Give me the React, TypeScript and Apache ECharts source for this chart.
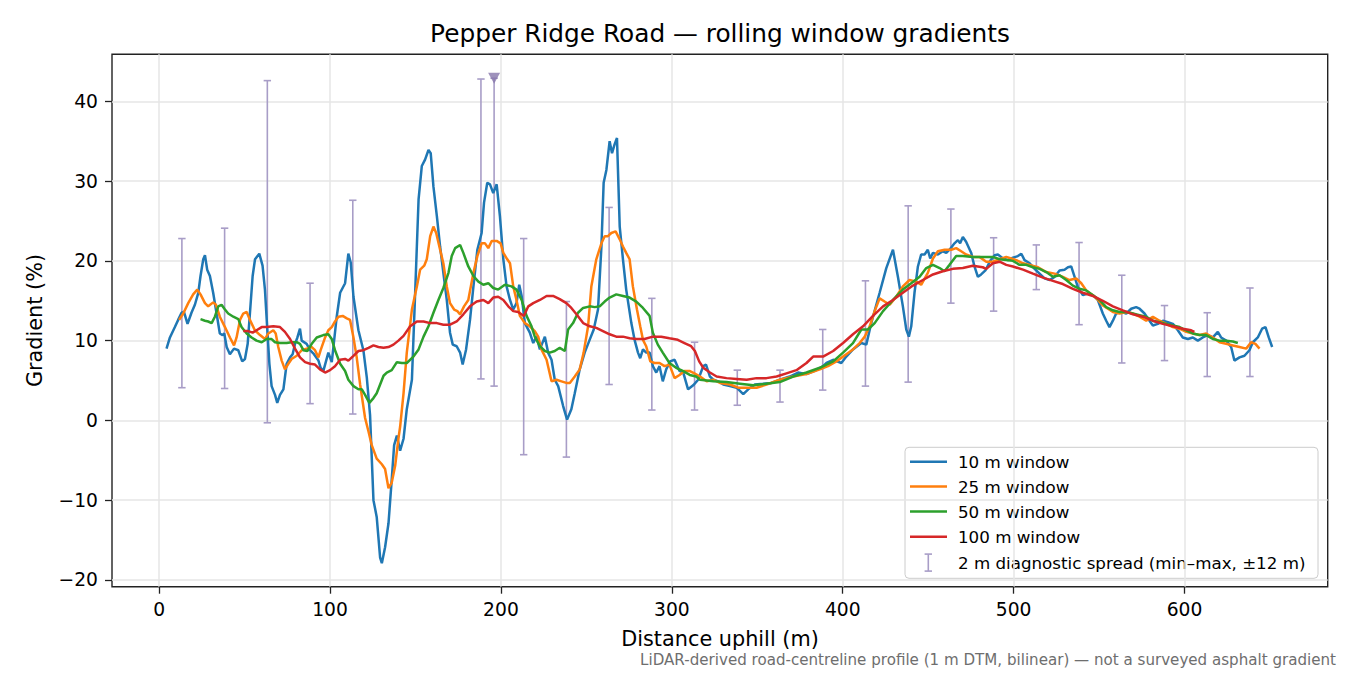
import { useEffect, useRef } from "react";
import * as echarts from "echarts";

// distance uphill (m) -> gradient (%)
const win10: [number, number][] = [
  [4.3, 9.0], [6.3, 10.4], [9.2, 11.7], [11.1, 12.6], [13.1, 13.5], [14.5, 13.6], [16.6, 12.1], [18.9, 13.5],
  [20.9, 14.5], [22.9, 16.0], [24.2, 18.1], [25.8, 20.2], [26.8, 20.7], [28.1, 18.9], [29.7, 18.1], [31.6, 16.0],
  [33.6, 13.4], [35.5, 10.9], [37.1, 10.7], [38.1, 10.9], [39.5, 9.2], [41.4, 8.3], [43.8, 9.0], [46.3, 8.8],
  [48.6, 7.4], [50.2, 7.7], [51.8, 9.6], [53.1, 13.4], [54.7, 18.1], [56.1, 20.2], [58.6, 20.9], [60.5, 19.4],
  [61.9, 16.4], [63.3, 11.3], [64.5, 7.1], [65.8, 4.3], [67.8, 3.2], [69.1, 2.2], [70.7, 3.2], [72.7, 3.9],
  [74.6, 7.1], [76.6, 7.9], [78.1, 8.3], [79.5, 9.6], [80.9, 10.4], [82.4, 11.5], [83.4, 10.0], [86.3, 9.6],
  [88.3, 8.8], [90.6, 8.3], [93.2, 7.5], [94.5, 6.6], [96.1, 6.2], [99.0, 8.5], [101.0, 7.3], [103.9, 13.0],
  [105.9, 16.0], [108.8, 17.2], [110.7, 20.9], [112.1, 19.8], [113.7, 15.5], [116.6, 11.3], [119.5, 8.8],
  [121.5, 5.4], [123.4, 0.7], [125.4, -10.0], [127.3, -12.1], [129.3, -17.2], [130.3, -17.9], [132.2, -15.9],
  [134.2, -12.9], [136.1, -7.4], [137.5, -3.1], [139.1, -1.9], [141.0, -3.8], [143.0, -2.3], [144.9, 1.4],
  [147.9, 5.1], [149.8, 16.0], [151.8, 27.7], [153.7, 31.9], [155.6, 32.7], [157.6, 33.9], [158.9, 33.5],
  [160.5, 29.3], [162.5, 25.6], [164.4, 21.8], [166.3, 18.5], [168.3, 15.1], [170.2, 11.0], [171.8, 9.5],
  [174.1, 9.3], [176.1, 8.5], [177.6, 7.0], [179.6, 8.9], [181.9, 12.6], [183.9, 16.8], [186.2, 21.4],
  [188.7, 23.5], [190.1, 27.3], [192.0, 29.8], [193.6, 29.6], [195.5, 28.5], [197.5, 29.6], [199.4, 25.6],
  [201.4, 20.2], [203.3, 16.8], [205.3, 15.1], [207.2, 13.9], [209.1, 14.7], [210.7, 17.0], [212.1, 15.6],
  [214.0, 12.2], [216.9, 11.0], [218.9, 9.7], [220.8, 10.5], [222.8, 8.9], [225.7, 10.5], [227.6, 8.5],
  [229.6, 7.6], [231.5, 5.1], [233.5, 4.3], [236.4, 1.8], [238.7, 0.1], [241.2, 1.4], [243.2, 3.4], [246.1, 6.4],
  [249.0, 8.5], [251.9, 10.1], [254.3, 11.4], [256.8, 13.9], [258.8, 21.8], [260.1, 29.8], [261.7, 31.4],
  [263.6, 35.0], [265.0, 33.5], [266.5, 34.6], [267.9, 35.4], [269.5, 24.3], [271.4, 20.2], [273.3, 16.4],
  [276.3, 12.2], [278.2, 10.1], [280.2, 8.5], [281.5, 7.8], [283.1, 8.9], [285.0, 8.5], [287.0, 8.5], [288.9, 6.8],
  [290.9, 6.0], [292.8, 6.8], [294.7, 4.9], [296.7, 6.4], [299.0, 7.4], [301.6, 7.6], [304.5, 6.2], [306.7, 6.0],
  [309.5, 3.9], [312.5, 4.4], [315.4, 5.1], [318.4, 6.8], [320.0, 7.0], [322.3, 5.5], [324.3, 5.1], [327.2, 4.9],
  [330.1, 4.5], [334.0, 4.3], [337.9, 4.1], [341.8, 3.3], [344.7, 3.9], [348.6, 4.5], [353.5, 4.6], [358.3, 4.7],
  [363.2, 5.1], [369.0, 5.5], [373.9, 6.0], [378.8, 5.8], [383.6, 6.2], [388.5, 6.8], [390.5, 7.2], [394.4, 7.6],
  [399.2, 7.2], [402.1, 8.0], [406.0, 8.9], [410.9, 9.7], [413.8, 9.5], [416.7, 12.2], [421.6, 16.0],
  [425.5, 19.1], [429.4, 21.4], [432.3, 18.0], [435.2, 14.3], [437.2, 11.4], [438.7, 10.5], [440.1, 11.8],
  [442.0, 16.0], [444.0, 19.3], [445.9, 20.8], [447.9, 20.8], [449.8, 21.4], [451.2, 20.3], [452.8, 21.0],
  [455.7, 20.8], [458.6, 21.2], [460.6, 21.0], [462.5, 21.4], [465.4, 22.2], [467.4, 22.6], [468.7, 22.2],
  [470.3, 23.0], [472.2, 22.4], [475.2, 21.0], [477.1, 19.3], [479.1, 18.0], [481.0, 18.3], [483.5, 18.8],
  [486.3, 20.0], [488.9, 20.7], [490.8, 20.8], [493.8, 20.3], [496.7, 20.1], [499.6, 20.4], [502.5, 20.6],
  [504.5, 20.9], [506.4, 20.1], [509.4, 19.7], [512.3, 19.0], [515.2, 18.4], [518.1, 17.8], [521.1, 17.6],
  [524.0, 18.0], [526.9, 18.8], [529.8, 18.9], [531.8, 19.2], [533.7, 19.3], [535.7, 18.0], [537.6, 16.7],
  [540.5, 15.7], [543.5, 15.9], [546.4, 15.7], [549.3, 15.1], [552.2, 13.4], [554.2, 12.5], [556.1, 11.7],
  [558.1, 12.5], [560.0, 13.4], [563.0, 13.6], [565.9, 13.4], [568.8, 14.0], [571.7, 14.2], [573.7, 14.0],
  [576.6, 13.4], [579.5, 12.5], [581.5, 11.9], [584.4, 12.1], [587.3, 12.5], [590.3, 12.3], [593.2, 12.1],
  [596.1, 11.3], [599.0, 10.4], [602.0, 10.2], [604.9, 10.4], [607.8, 10.0], [610.7, 10.4], [613.6, 10.7],
  [616.6, 10.4], [619.5, 11.1], [621.4, 10.4], [624.4, 10.0], [627.3, 9.2], [629.2, 7.5], [632.2, 7.9],
  [635.1, 8.1], [638.0, 8.8], [640.0, 9.8], [642.9, 10.4], [645.4, 11.5], [647.4, 11.7], [649.3, 10.4],
  [651.3, 9.2],
];

const win25: [number, number][] = [
  [11.7, 12.6], [14.1, 13.4], [17.0, 14.7], [19.9, 15.8], [22.3, 16.4], [24.2, 15.8], [26.8, 14.7], [28.7, 14.3],
  [31.6, 14.8], [33.2, 14.5], [35.5, 13.0], [38.5, 11.7], [41.4, 10.4], [43.8, 9.4], [45.3, 10.4], [47.3, 12.6],
  [49.2, 13.4], [51.2, 13.6], [53.1, 12.6], [56.0, 11.3], [59.0, 10.7], [61.9, 10.2], [63.9, 10.9], [66.8, 11.3],
  [68.2, 10.9], [69.7, 9.2], [71.7, 7.5], [73.6, 6.4], [75.6, 7.1], [77.5, 7.7], [80.5, 8.1], [83.4, 8.8],
  [86.3, 9.0], [89.3, 9.2], [91.2, 8.8], [93.2, 7.9], [94.5, 8.8], [97.1, 10.4], [99.0, 11.3], [101.0, 11.7],
  [102.9, 12.4], [104.9, 13.0], [107.4, 13.1], [109.8, 12.8], [111.7, 12.6], [113.7, 10.4], [115.6, 7.9],
  [117.6, 4.5], [120.5, 0.3], [122.5, -1.4], [124.4, -3.1], [127.3, -4.8], [130.3, -5.5], [132.2, -6.1],
  [134.2, -8.5], [136.1, -7.8], [138.1, -5.7], [140.0, -2.3], [141.0, -0.8], [143.0, 3.4], [144.9, 8.5],
  [147.9, 13.9], [150.8, 16.8], [152.7, 18.9], [155.1, 19.4], [156.6, 20.2], [158.6, 23.1], [160.5, 24.3],
  [162.1, 23.5], [164.4, 21.4], [166.3, 19.7], [168.3, 16.8], [170.2, 14.7], [172.6, 13.9], [174.5, 13.7],
  [176.1, 13.3], [178.4, 14.3], [180.9, 15.1], [183.9, 18.5], [186.2, 20.6], [188.7, 22.2], [190.7, 22.2],
  [192.6, 21.6], [194.6, 22.5], [197.5, 22.5], [199.8, 22.2], [201.4, 21.0], [203.7, 20.2], [205.3, 19.7],
  [207.2, 16.8], [209.1, 15.1], [211.1, 13.1], [214.0, 12.2], [216.9, 11.8], [219.8, 11.2], [221.8, 10.5],
  [223.7, 8.9], [226.7, 7.6], [229.6, 4.9], [232.5, 5.1], [235.4, 4.9], [238.3, 4.7], [240.3, 4.7], [243.2, 5.5],
  [246.1, 6.4], [248.4, 8.5], [251.0, 11.8], [252.9, 16.8], [255.8, 20.2], [258.8, 22.2], [260.7, 23.1],
  [262.6, 23.1], [264.6, 23.5], [267.1, 23.7], [269.5, 22.7], [271.4, 21.8], [273.3, 21.0], [275.3, 20.2],
  [277.2, 16.8], [279.6, 13.9], [281.5, 11.8], [283.1, 10.1], [285.0, 9.3], [287.4, 7.4], [289.9, 7.2],
  [292.8, 7.2], [295.7, 6.8], [298.6, 7.0], [301.6, 5.3], [304.5, 5.7], [307.4, 6.2], [310.3, 6.2], [313.2, 5.9],
  [316.5, 5.5], [320.4, 4.9], [324.3, 5.1], [328.2, 4.7], [334.0, 4.5], [338.9, 4.1], [343.8, 4.1], [349.6, 4.1],
  [355.4, 4.5], [363.2, 5.1], [371.0, 5.5], [378.8, 5.8], [386.6, 6.4], [391.4, 6.8], [396.3, 7.4], [402.1, 8.3],
  [406.0, 8.9], [409.9, 9.7], [412.9, 10.5], [415.8, 11.8], [418.7, 13.7], [421.6, 15.3], [424.5, 14.9],
  [427.5, 14.5], [431.3, 15.5], [435.2, 16.8], [439.1, 17.6], [443.0, 17.4], [445.9, 17.0], [449.8, 18.5],
  [452.8, 20.3], [455.7, 21.2], [459.6, 21.4], [463.5, 21.4], [466.4, 21.6], [469.3, 21.2], [472.2, 20.8],
  [476.1, 20.5], [480.0, 20.5], [484.0, 19.9], [487.9, 19.9], [491.8, 20.2], [495.7, 20.5], [498.6, 20.3],
  [501.6, 20.1], [505.5, 19.7], [509.4, 19.5], [514.3, 19.2], [519.1, 18.6], [524.0, 18.4], [528.8, 18.0],
  [532.7, 17.6], [536.6, 17.8], [539.6, 17.2], [542.5, 16.3], [546.4, 15.7], [549.3, 15.1], [552.2, 14.4],
  [555.2, 14.0], [558.1, 13.6], [562.0, 13.4], [565.9, 13.6], [569.8, 13.4], [573.7, 13.0], [577.6, 12.5],
  [581.5, 13.0], [585.4, 12.5], [589.3, 12.1], [593.2, 11.7], [597.1, 11.5], [601.0, 11.1], [604.9, 10.9],
  [608.8, 10.7], [612.7, 10.9], [616.6, 10.4], [620.5, 9.8], [624.4, 9.6], [628.3, 9.4], [632.2, 9.2],
  [636.1, 9.0], [639.0, 9.8], [641.5, 9.6], [643.9, 9.0],
];

const win50: [number, number][] = [
  [24.2, 12.7], [26.8, 12.5], [28.7, 12.4], [30.7, 12.2], [32.6, 13.0], [34.6, 14.3], [36.5, 14.5], [38.5, 13.9],
  [40.4, 13.4], [43.4, 13.0], [46.3, 12.7], [48.2, 11.7], [51.2, 10.9], [54.1, 10.4], [57.0, 10.0], [60.0, 9.8],
  [62.9, 10.2], [65.8, 10.2], [67.8, 9.8], [70.7, 9.7], [74.6, 9.7], [77.5, 9.8], [80.5, 9.8], [82.4, 9.6],
  [84.4, 8.8], [86.7, 8.7], [89.3, 9.6], [92.2, 10.4], [96.1, 10.7], [99.0, 10.8], [101.0, 10.2], [102.9, 8.8],
  [105.9, 7.1], [108.8, 6.2], [110.7, 5.1], [113.7, 4.3], [116.6, 3.9], [118.6, 3.9], [120.5, 3.2], [123.0, 2.2],
  [125.4, 2.8], [127.3, 3.4], [129.3, 4.5], [131.3, 5.6], [133.2, 6.0], [136.1, 6.3], [139.1, 7.3], [142.0, 7.2],
  [144.9, 7.2], [148.8, 8.0], [151.8, 8.9], [154.7, 10.5], [157.6, 11.8], [160.5, 13.5], [163.4, 15.1],
  [166.3, 16.6], [169.3, 18.5], [171.2, 20.6], [173.2, 21.6], [176.1, 22.0], [178.0, 21.0], [180.9, 19.3],
  [183.9, 18.1], [186.8, 17.4], [189.7, 17.0], [192.6, 17.2], [195.5, 16.6], [198.4, 16.4], [202.3, 17.0],
  [206.2, 16.8], [209.1, 16.4], [212.1, 15.1], [215.0, 13.1], [217.9, 11.8], [219.8, 10.5], [222.8, 9.3],
  [225.7, 8.7], [228.6, 8.5], [231.5, 8.7], [234.4, 9.1], [237.4, 8.7], [239.3, 11.4], [242.2, 12.2],
  [245.1, 13.5], [248.1, 14.1], [252.0, 14.3], [254.9, 14.2], [257.8, 14.3], [260.7, 14.9], [263.6, 15.4],
  [267.5, 15.8], [271.4, 15.6], [275.3, 15.4], [279.2, 14.9], [283.1, 14.1], [287.0, 13.1], [288.9, 11.0],
  [291.8, 9.5], [294.7, 8.5], [298.6, 7.2], [302.5, 6.6], [306.4, 6.2], [310.5, 5.7], [314.2, 5.5], [316.5, 5.1],
  [324.3, 4.9], [332.0, 4.8], [339.9, 4.6], [347.6, 4.4], [355.4, 4.6], [363.2, 4.8], [371.0, 5.5], [378.8, 6.0],
  [386.6, 6.6], [394.4, 7.4], [400.2, 8.5], [406.0, 9.7], [410.9, 11.4], [414.8, 11.4], [418.7, 12.2],
  [423.6, 13.7], [429.4, 15.1], [435.2, 16.4], [440.1, 17.2], [445.0, 18.0], [448.9, 19.1], [452.8, 19.5],
  [456.7, 19.1], [459.6, 18.7], [462.5, 19.5], [466.4, 20.6], [470.3, 20.6], [476.1, 20.5], [481.9, 20.5],
  [487.8, 20.5], [491.8, 20.2], [495.7, 20.1], [499.6, 20.0], [503.5, 19.5], [507.4, 19.5], [511.3, 19.2],
  [515.2, 19.0], [519.1, 18.6], [523.0, 18.0], [526.9, 18.2], [530.8, 17.6], [534.7, 16.9], [538.6, 16.5],
  [542.5, 16.3], [546.4, 15.7], [550.3, 15.1], [554.2, 14.2], [558.1, 13.8], [562.0, 13.6], [565.9, 13.6],
  [569.8, 13.4], [573.7, 13.2], [577.6, 13.0], [581.5, 12.5], [585.4, 12.3], [589.3, 12.1], [593.2, 11.9],
  [597.1, 11.7], [601.0, 11.3], [604.9, 10.9], [608.8, 10.7], [612.7, 10.7], [616.6, 10.2], [620.5, 10.0],
  [624.4, 10.0], [628.3, 9.9], [631.2, 9.7],
];

const win100: [number, number][] = [
  [49.2, 11.2], [52.1, 11.2], [54.7, 11.0], [57.0, 11.3], [60.0, 11.7], [62.9, 11.7], [66.8, 11.8], [70.7, 11.7],
  [73.6, 11.1], [76.6, 10.2], [79.5, 9.0], [82.4, 7.9], [85.4, 7.3], [88.3, 7.1], [91.2, 7.0], [94.1, 6.4],
  [97.1, 6.0], [100.0, 6.3], [102.9, 6.8], [105.9, 7.6], [108.8, 7.7], [110.7, 7.5], [113.7, 8.1], [116.6, 8.7],
  [119.5, 8.8], [122.5, 9.1], [125.4, 9.4], [128.3, 9.2], [131.3, 9.1], [134.2, 9.2], [137.1, 9.5], [140.0, 10.0],
  [143.0, 10.6], [146.9, 11.8], [150.8, 12.4], [154.7, 12.4], [158.6, 12.2], [162.5, 12.2], [166.3, 12.0],
  [170.2, 12.0], [174.1, 12.4], [178.0, 13.3], [181.9, 14.3], [185.8, 14.9], [189.7, 15.1], [192.6, 14.7],
  [195.5, 15.4], [198.4, 15.5], [201.4, 15.1], [204.3, 14.3], [207.2, 13.7], [210.1, 13.6], [213.4, 13.1],
  [216.0, 14.3], [218.9, 14.7], [222.8, 15.1], [226.7, 15.6], [230.5, 15.6], [234.4, 15.2], [238.3, 14.7],
  [241.2, 14.1], [244.2, 13.3], [248.1, 12.2], [252.0, 11.8], [255.8, 11.6], [259.7, 11.2], [263.6, 10.8],
  [267.5, 10.5], [271.4, 10.5], [275.3, 10.3], [279.2, 10.2], [284.0, 10.2], [288.9, 10.5], [293.8, 10.5],
  [298.6, 10.3], [303.5, 10.1], [307.4, 9.7], [311.3, 9.3], [313.5, 8.7], [316.0, 7.4], [318.4, 6.6],
  [322.3, 6.0], [326.2, 5.5], [332.0, 5.3], [337.9, 5.2], [343.8, 5.1], [349.6, 5.3], [355.4, 5.3], [361.3, 5.5],
  [367.1, 5.9], [372.9, 6.3], [378.8, 7.2], [382.7, 8.0], [388.5, 8.0], [394.4, 8.7], [400.2, 9.7], [406.0, 10.8],
  [411.9, 11.8], [417.7, 13.1], [423.6, 14.3], [429.4, 15.1], [435.2, 16.0], [441.1, 16.9], [446.9, 17.6],
  [452.8, 18.3], [458.6, 18.7], [464.4, 19.0], [470.3, 19.1], [476.1, 19.4], [481.9, 19.2], [484.0, 19.0],
  [487.9, 19.7], [491.8, 19.9], [495.7, 19.5], [499.6, 19.3], [505.5, 18.9], [511.3, 18.4], [517.2, 17.9],
  [523.0, 17.5], [528.8, 17.1], [534.7, 16.5], [540.5, 16.0], [546.4, 15.6], [552.2, 15.0], [558.1, 14.3],
  [563.9, 13.8], [569.8, 13.3], [575.6, 13.0], [581.5, 12.5], [587.3, 12.1], [593.2, 11.8], [599.0, 11.5],
  [603.9, 11.3], [605.8, 11.1],
];

// 2 m diagnostic spread: centre distance, min and max gradient
const spreadAt = [13.3, 38.3, 63.3, 88.3, 113.3, 188.3, 196.0, 213.3, 238.3, 263.3, 288.3, 313.3, 338.3,
  363.3, 388.3, 413.3, 438.3, 463.3, 488.3, 513.3, 538.3, 563.3, 588.3, 613.3, 638.3];
const spreadMin = [4.1, 4.0, -0.3, 2.1, 0.8, 5.2, 4.3, -4.3, -4.6, 4.5, 1.3, 1.3, 1.9,
  2.3, 3.8, 4.3, 4.8, 14.7, 13.7, 16.4, 12.0, 7.2, 7.5, 5.5, 5.5];
const spreadMax = [22.8, 24.1, 42.6, 17.2, 27.6, 42.8, 42.9, 22.8, 14.9, 26.7, 15.3, 9.8, 6.3,
  6.3, 11.4, 17.5, 26.9, 26.5, 22.9, 22.0, 22.3, 18.2, 14.4, 13.5, 16.6];
const peakMark: [number, number] = [196.0, 42.9];

const seriesNames = ["10 m window", "25 m window", "50 m window", "100 m window"];
const spreadName = "2 m diagnostic spread (min\u2013max, \u00b112 m)";
const xTicks = [0, 100, 200, 300, 400, 500, 600];
const yTicks = [-20, -10, 0, 10, 20, 30, 40];

const COLORS = ["#1f77b4", "#ff7f0e", "#2ca02c", "#d62728"];
const BAR = "#a89dc7";
const FONT = "'DejaVu Sans', sans-serif";

export default function App() {
  const ref = useRef<HTMLDivElement>(null);

  useEffect(() => {
    document.body.style.margin = "0";
    if (!ref.current) return;
    const chart = echarts.init(ref.current, null, { renderer: "svg" });

    const lines = [win10, win25, win50, win100].map((d, i) => ({
      name: seriesNames[i],
      type: "line",
      data: d,
      showSymbol: false,
      symbol: "none",
      lineStyle: { color: COLORS[i], width: 2.5 },
      itemStyle: { color: COLORS[i] },
      z: 3,
    }));

    const legendRows = [461.7, 486.6, 511.6, 536.7];
    const legendItems: any[] = [
      {
        type: "rect",
        shape: { x: 905, y: 447.3, width: 413, height: 131, r: 4 },
        style: { fill: "rgba(255,255,255,0.8)", stroke: "#cccccc", lineWidth: 1 },
      },
    ];
    seriesNames.forEach((n, i) => {
      legendItems.push({
        type: "line",
        shape: { x1: 910, y1: legendRows[i], x2: 947, y2: legendRows[i] },
        style: { stroke: COLORS[i], lineWidth: 2.5 },
      });
      legendItems.push({
        type: "text",
        x: 958,
        y: legendRows[i],
        style: { text: n, font: `16.7px ${FONT}`, fill: "#000", textVerticalAlign: "middle", verticalAlign: "middle" },
      });
    });
    const ey = 562.6;
    legendItems.push(
      { type: "line", shape: { x1: 928.3, y1: ey - 8.5, x2: 928.3, y2: ey + 8.5 }, style: { stroke: BAR, lineWidth: 1.6 } },
      { type: "line", shape: { x1: 924.6, y1: ey - 8.5, x2: 932, y2: ey - 8.5 }, style: { stroke: BAR, lineWidth: 1.6 } },
      { type: "line", shape: { x1: 924.6, y1: ey + 8.5, x2: 932, y2: ey + 8.5 }, style: { stroke: BAR, lineWidth: 1.6 } },
      {
        type: "text",
        x: 958,
        y: ey,
        style: { text: spreadName, font: `16.7px ${FONT}`, fill: "#000", textVerticalAlign: "middle", verticalAlign: "middle" },
      },
    );

    const centred = (text: string, size: number) => ({
      text,
      font: `${size}px ${FONT}`,
      fill: "#000",
      textAlign: "center",
      textVerticalAlign: "middle",
      align: "center",
      verticalAlign: "middle",
    });

    chart.setOption({
      animation: false,
      backgroundColor: "#ffffff",
      grid: {
        left: 112,
        top: 54.3,
        right: 22.3,
        bottom: 88.3,
        show: true,
        borderColor: "#222",
        borderWidth: 1.4,
        backgroundColor: "transparent",
        containLabel: false,
        outerBoundsMode: "none",
      },
      xAxis: {
        type: "value",
        min: -27.6,
        max: 683.8,
        axisLine: { show: false, onZero: false },
        axisTick: { show: true, inside: false, length: 7, customValues: xTicks, lineStyle: { color: "#222", width: 1.3 } },
        axisLabel: { customValues: xTicks, color: "#000", fontSize: 18.7, fontFamily: FONT, margin: 13 },
        splitLine: { show: true, lineStyle: { color: "#e6e6e6", width: 1.5 } },
      },
      yAxis: {
        type: "value",
        min: -20.85,
        max: 45.9,
        axisLine: { show: false, onZero: false },
        axisTick: { show: true, inside: false, length: 7, customValues: yTicks, lineStyle: { color: "#222", width: 1.3 } },
        axisLabel: {
          customValues: yTicks,
          color: "#000",
          fontSize: 18.7,
          fontFamily: FONT,
          margin: 14,
          formatter: (v: number) => (v < 0 ? "\u2212" + Math.abs(v) : String(v)),
        },
        splitLine: { show: true, lineStyle: { color: "#e6e6e6", width: 1.5 } },
      },
      series: [
        {
          name: spreadName,
          type: "custom",
          z: 2,
          data: spreadAt.map((x, i) => [x, spreadMin[i], spreadMax[i]]),
          encode: { x: 0, y: [1, 2] },
          renderItem: (_p: any, api: any) => {
            const lo = api.coord([api.value(0), api.value(1)]);
            const hi = api.coord([api.value(0), api.value(2)]);
            const c = 3.7;
            const st = { stroke: BAR, lineWidth: 1.6 };
            return {
              type: "group",
              children: [
                { type: "line", shape: { x1: lo[0], y1: lo[1], x2: hi[0], y2: hi[1] }, style: st },
                { type: "line", shape: { x1: lo[0] - c, y1: lo[1], x2: lo[0] + c, y2: lo[1] }, style: st },
                { type: "line", shape: { x1: hi[0] - c, y1: hi[1], x2: hi[0] + c, y2: hi[1] }, style: st },
              ],
            };
          },
        },
        ...lines,
        {
          name: "peak",
          type: "scatter",
          data: [peakMark],
          symbol: "triangle",
          symbolRotate: 180,
          symbolSize: [12, 11],
          itemStyle: { color: "#8777ab" },
          z: 4,
        },
      ],
      graphic: [
        { type: "text", x: 720, y: 33, style: centred("Pepper Ridge Road \u2014 rolling window gradients", 24.8) },
        { type: "text", x: 720, y: 639, style: centred("Distance uphill (m)", 20.8) },
        { type: "text", x: 35, y: 320.5, rotation: Math.PI / 2, style: centred("Gradient (%)", 20.8) },
        {
          type: "text",
          x: 1336,
          y: 660,
          style: {
            text: "LiDAR-derived road-centreline profile (1 m DTM, bilinear) \u2014 not a surveyed asphalt gradient",
            font: `15.1px ${FONT}`,
            fill: "#6e6e6e",
            textAlign: "right",
            textVerticalAlign: "middle",
            align: "right",
            verticalAlign: "middle",
          },
        },
        ...legendItems,
      ],
    });

    return () => chart.dispose();
  }, []);

  return <div ref={ref} style={{ width: 1350, height: 675 }} />;
}
